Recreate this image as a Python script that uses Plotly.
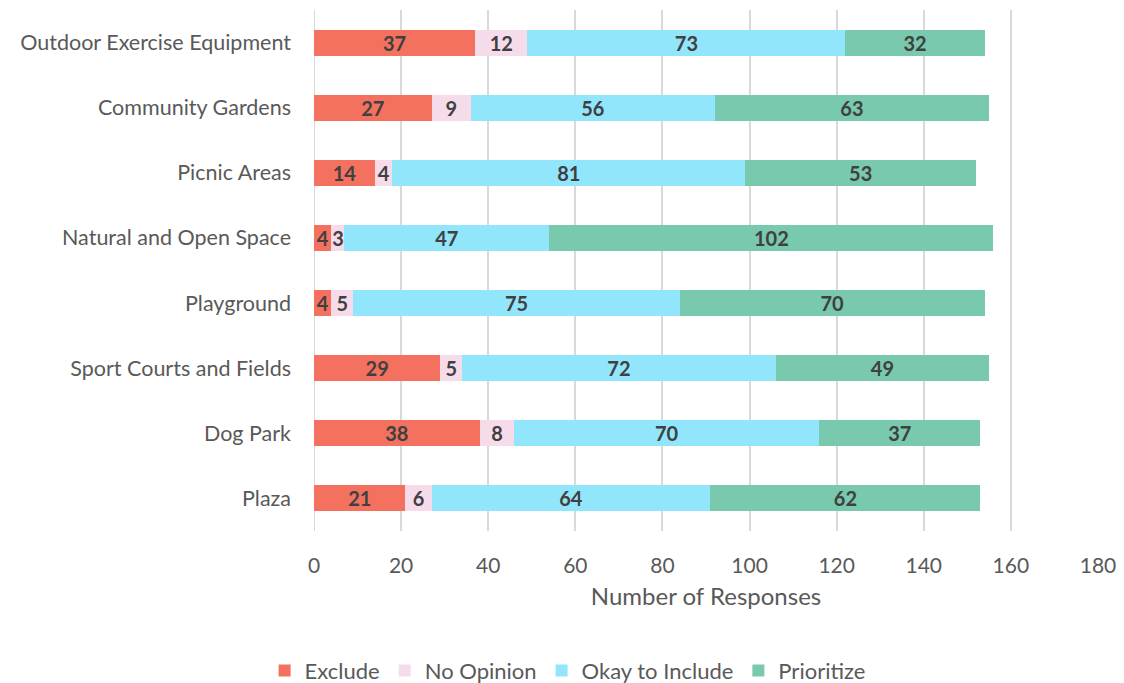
import plotly.graph_objects as go

categories = ["Outdoor Exercise Equipment", "Community Gardens", "Picnic Areas",
              "Natural and Open Space", "Playground", "Sport Courts and Fields",
              "Dog Park", "Plaza"]
exclude = [37, 27, 14, 4, 4, 29, 38, 21]
no_opinion = [12, 9, 4, 3, 5, 5, 8, 6]
okay_include = [73, 56, 81, 47, 75, 72, 70, 64]
prioritize = [32, 63, 53, 102, 70, 49, 37, 62]
x_ticks = [0, 20, 40, 60, 80, 100, 120, 140, 160, 180]

series = [
    ("Exclude", exclude, "#F4705F"),
    ("No Opinion", no_opinion, "#F6DCEA"),
    ("Okay to Include", okay_include, "#92E6FC"),
    ("Prioritize", prioritize, "#78C9AE"),
]

FONT = "Lato"
fig = go.Figure()
for name, vals, color in series:
    fig.add_trace(go.Bar(
        y=categories, x=vals, name=name, orientation="h",
        marker=dict(color=color, line=dict(width=0)),
        text=[str(v) for v in vals], textposition="inside", textangle=0,
        insidetextanchor="middle",
        textfont=dict(family=FONT, size=20, color="#404040", weight="bold"),
    ))

fig.update_layout(
    barmode="stack",
    bargap=0.6,
    width=1124, height=683,
    margin=dict(l=314, r=26, t=10, b=152, autoexpand=False),
    plot_bgcolor="white", paper_bgcolor="white",
    font=dict(family=FONT, color="#595959", size=20),
    uniformtext=dict(mode="show", minsize=20),
    xaxis=dict(range=[0, 180], tickvals=x_ticks, showgrid=True, automargin=False,
               gridcolor="#D9D9D9", gridwidth=2, zeroline=False,
               showline=False, ticks="", ticklabelstandoff=20,
               tickfont=dict(size=21, color="#595959"),
               title=dict(text="Number of Responses", font=dict(size=24, color="#595959"), standoff=12)),
    yaxis=dict(autorange="reversed", categoryorder="array", categoryarray=categories,
               showgrid=False, showline=False, ticks="", ticklabelstandoff=22, automargin=False,
               tickfont=dict(size=21.5, color="#595959")),
    legend=dict(orientation="h", xref="container", x=0.505, xanchor="center",
                yref="container", y=0.018, yanchor="middle",
                font=dict(size=22, color="#595959"), traceorder="normal",
                itemwidth=30),
    shapes=[dict(type="line", xref="x", yref="paper", x0=0, x1=0, y0=0, y1=1,
                 line=dict(color="#D9D9D9", width=2), layer="below")],
)

fig.write_html("out.html", config={"displayModeBar": False},
               post_script="document.body.style.margin='0';document.body.style.overflow='hidden';")
